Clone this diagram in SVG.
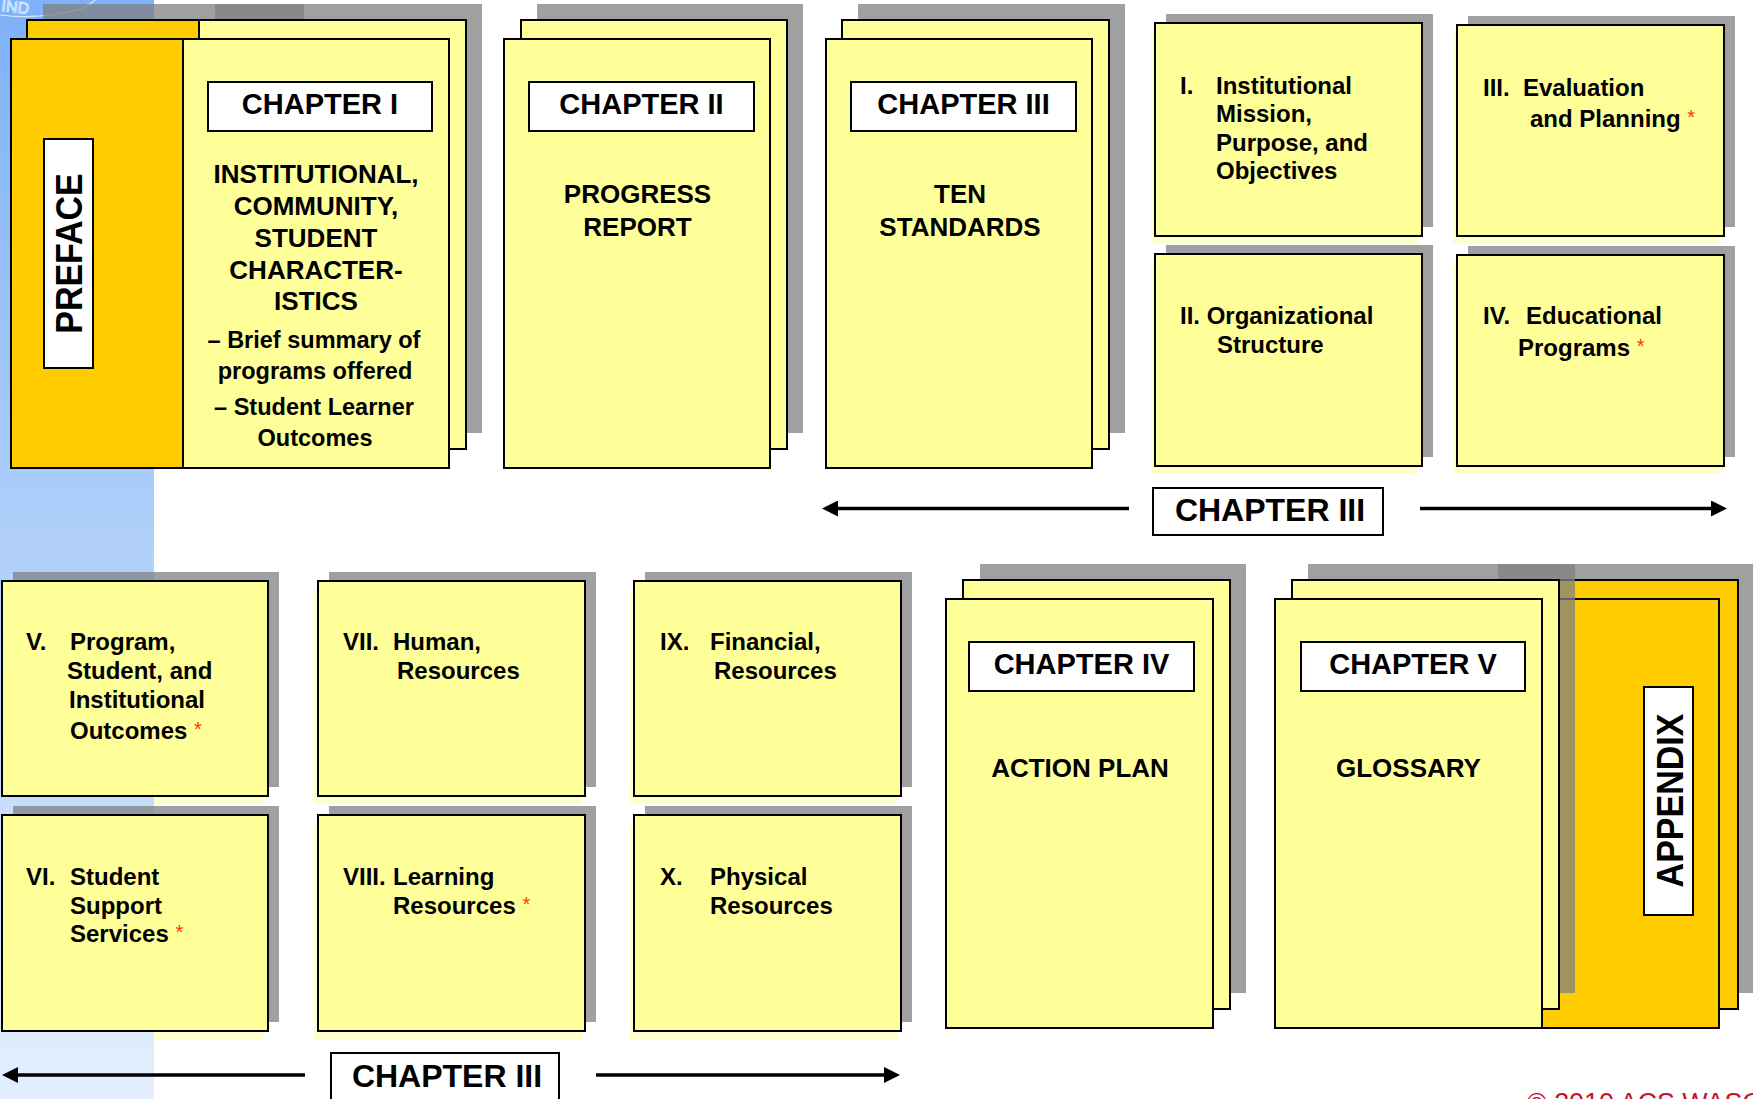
<svg xmlns="http://www.w3.org/2000/svg" width="1753" height="1099" viewBox="0 0 1753 1099">
<defs>
  <linearGradient id="bluebg" x1="0" y1="0" x2="0" y2="1">
    <stop offset="0" stop-color="#7eb1f9"/>
    <stop offset="0.7" stop-color="#c4dcfa"/>
    <stop offset="1" stop-color="#e3effd"/>
  </linearGradient>
  <marker id="ah" markerUnits="userSpaceOnUse" markerWidth="16" markerHeight="16" viewBox="0 0 16 16" refX="1" refY="8" orient="auto">
    <path d="M0,0 L16,8 L0,16 z" fill="#000"/>
  </marker>
  <style>
    .sh{fill:#808080;opacity:0.75}
    .gl{fill:#ffffcc}
    .yl{fill:#ffff99;stroke:#000;stroke-width:2}
    .or{fill:#ffcc00;stroke:#000;stroke-width:2}
    .lb{fill:#fff;stroke:#000;stroke-width:2}
    text{font-family:"Liberation Sans",Arial,sans-serif;font-weight:bold;fill:#000}
    .t29{font-size:29px;text-anchor:middle}
    .t32{font-size:32px;text-anchor:middle}
    .t26{font-size:26px;text-anchor:middle}
    .t23{font-size:23.5px;text-anchor:middle}
    .t24{font-size:24px}
    .ast{fill:#ff3300;font-weight:normal;font-size:20px}
    .vert{font-size:34px;text-anchor:middle}
    .arr{stroke:#000;stroke-width:3.5;fill:none}
  </style>
</defs>

<rect width="1753" height="1099" fill="#fff"/>

<!-- glows under small boxes -->
<g id="glows">
  <rect class="gl" x="1151" y="31" width="267" height="213"/>
  <rect class="gl" x="1453" y="33" width="267" height="211"/>
  <rect class="gl" x="1151" y="262" width="267" height="212"/>
  <rect class="gl" x="1453" y="263" width="267" height="211"/>
  <rect class="gl" x="-2" y="589" width="266" height="215"/>
  <rect class="gl" x="314" y="589" width="267" height="215"/>
  <rect class="gl" x="630" y="589" width="267" height="215"/>
  <rect class="gl" x="-2" y="823" width="266" height="216"/>
  <rect class="gl" x="314" y="823" width="267" height="216"/>
  <rect class="gl" x="630" y="823" width="267" height="216"/>
</g>

<!-- background blue strip -->
<rect x="0" y="0" width="154" height="1099" fill="url(#bluebg)"/>
<g id="logo-fragment" fill="none" stroke="#dce9fd" stroke-width="1.2">
  <text x="1" y="11" style="font-size:16px;font-weight:normal;fill:none;stroke:#dce9fd;stroke-width:1" transform="rotate(6 1 11)">IND</text>
  <path d="M0,15 Q40,20 80,9 Q90,5 95,0"/>
</g>

<!-- PREFACE stack -->
<g id="preface">
  <rect class="sh" x="43" y="4" width="261" height="429"/>
  <rect class="or" x="27" y="20" width="261" height="429"/>
  <rect class="or" x="11" y="39" width="261" height="429"/>
  <rect class="lb" x="44" y="139" width="49" height="229"/>
  <text class="vert" transform="translate(82 253.5) rotate(-90) scale(1 1.1)">PREFACE</text>
</g>

<!-- CHAPTER I stack -->
<g id="chapter1">
  <rect class="sh" x="215" y="4" width="267" height="429"/>
  <rect class="yl" x="199" y="20" width="267" height="429"/>
  <rect class="yl" x="183" y="39" width="266" height="429"/>
  <rect class="lb" x="208" y="82" width="224" height="49"/>
  <text class="t29" x="320" y="114">CHAPTER I</text>
  <text class="t26" x="316" y="183">INSTITUTIONAL,</text>
  <text class="t26" x="316" y="215">COMMUNITY,</text>
  <text class="t26" x="316" y="247">STUDENT</text>
  <text class="t26" x="316" y="278.5">CHARACTER-</text>
  <text class="t26" x="316" y="310">ISTICS</text>
  <text class="t23" x="314" y="348">– Brief summary of</text>
  <text class="t23" x="315" y="379">programs offered</text>
  <text class="t23" x="314" y="415">– Student Learner</text>
  <text class="t23" x="315" y="446">Outcomes</text>
</g>

<!-- CHAPTER II stack -->
<g id="chapter2">
  <rect class="sh" x="537" y="4" width="266" height="429"/>
  <rect class="yl" x="521" y="20" width="266" height="429"/>
  <rect class="yl" x="504" y="39" width="266" height="429"/>
  <rect class="lb" x="529" y="82" width="225" height="49"/>
  <text class="t29" x="641.5" y="114">CHAPTER II</text>
  <text class="t26" x="637.5" y="203">PROGRESS</text>
  <text class="t26" x="637.5" y="236">REPORT</text>
</g>

<!-- CHAPTER III stack -->
<g id="chapter3">
  <rect class="sh" x="858" y="4" width="267" height="429"/>
  <rect class="yl" x="842" y="20" width="267" height="429"/>
  <rect class="yl" x="826" y="39" width="266" height="429"/>
  <rect class="lb" x="851" y="82" width="225" height="49"/>
  <text class="t29" x="963.5" y="114">CHAPTER III</text>
  <text class="t26" x="960" y="203">TEN</text>
  <text class="t26" x="960" y="236">STANDARDS</text>
</g>

<!-- Standard I -->
<g id="std1">
  <rect class="sh" x="1166" y="14" width="267" height="213"/>
  <rect class="yl" x="1155" y="23" width="267" height="213"/>
  <text class="t24" x="1180" y="93.5">I.</text>
  <text class="t24" x="1216" y="93.5">Institutional</text>
  <text class="t24" x="1216" y="122">Mission,</text>
  <text class="t24" x="1216" y="150.5">Purpose, and</text>
  <text class="t24" x="1216" y="179">Objectives</text>
</g>

<!-- Standard III -->
<g id="std3">
  <rect class="sh" x="1468" y="16" width="267" height="211"/>
  <rect class="yl" x="1457" y="25" width="267" height="211"/>
  <text class="t24" x="1483" y="95.5">III.</text>
  <text class="t24" x="1523" y="95.5">Evaluation</text>
  <text class="t24" x="1530" y="126.5">and Planning <tspan class="ast" dy="-3">*</tspan></text>
</g>

<!-- Standard II -->
<g id="std2">
  <rect class="sh" x="1166" y="245" width="267" height="212"/>
  <rect class="yl" x="1155" y="254" width="267" height="212"/>
  <text class="t24" x="1180" y="324">II. Organizational</text>
  <text class="t24" x="1217" y="353">Structure</text>
</g>

<!-- Standard IV -->
<g id="std4">
  <rect class="sh" x="1468" y="246" width="267" height="211"/>
  <rect class="yl" x="1457" y="255" width="267" height="211"/>
  <text class="t24" x="1483" y="324">IV.</text>
  <text class="t24" x="1526" y="324">Educational</text>
  <text class="t24" x="1518" y="356">Programs <tspan class="ast" dy="-3">*</tspan></text>
</g>

<!-- Top Chapter III label -->
<g id="label-ch3-top">
  <rect class="lb" x="1153" y="488" width="230" height="47"/>
  <text class="t32" x="1270" y="521">CHAPTER III</text>
</g>

<!-- Standard V -->
<g id="std5">
  <rect class="sh" x="13" y="572" width="266" height="215"/>
  <rect class="yl" x="2" y="581" width="266" height="215"/>
  <text class="t24" x="26" y="650">V.</text>
  <text class="t24" x="70" y="650">Program,</text>
  <text class="t24" x="67" y="679">Student, and</text>
  <text class="t24" x="69" y="708">Institutional</text>
  <text class="t24" x="70" y="739">Outcomes <tspan class="ast" dy="-3">*</tspan></text>
</g>

<!-- Standard VII -->
<g id="std7">
  <rect class="sh" x="329" y="572" width="267" height="215"/>
  <rect class="yl" x="318" y="581" width="267" height="215"/>
  <text class="t24" x="343" y="650">VII.</text>
  <text class="t24" x="393" y="650">Human,</text>
  <text class="t24" x="397" y="679">Resources</text>
</g>

<!-- Standard IX -->
<g id="std9">
  <rect class="sh" x="645" y="572" width="267" height="215"/>
  <rect class="yl" x="634" y="581" width="267" height="215"/>
  <text class="t24" x="660" y="650">IX.</text>
  <text class="t24" x="710" y="650">Financial,</text>
  <text class="t24" x="714" y="679">Resources</text>
</g>

<!-- Standard VI -->
<g id="std6">
  <rect class="sh" x="13" y="806" width="266" height="216"/>
  <rect class="yl" x="2" y="815" width="266" height="216"/>
  <text class="t24" x="26" y="885">VI.</text>
  <text class="t24" x="70" y="885">Student</text>
  <text class="t24" x="70" y="914">Support</text>
  <text class="t24" x="70" y="942">Services <tspan class="ast" dy="-3">*</tspan></text>
</g>

<!-- Standard VIII -->
<g id="std8">
  <rect class="sh" x="329" y="806" width="267" height="216"/>
  <rect class="yl" x="318" y="815" width="267" height="216"/>
  <text class="t24" x="343" y="885">VIII.</text>
  <text class="t24" x="393" y="885">Learning</text>
  <text class="t24" x="393" y="914">Resources <tspan class="ast" dy="-3">*</tspan></text>
</g>

<!-- Standard X -->
<g id="std10">
  <rect class="sh" x="645" y="806" width="267" height="216"/>
  <rect class="yl" x="634" y="815" width="267" height="216"/>
  <text class="t24" x="660" y="885">X.</text>
  <text class="t24" x="710" y="885">Physical</text>
  <text class="t24" x="710" y="914">Resources</text>
</g>

<!-- CHAPTER IV stack -->
<g id="chapter4">
  <rect class="sh" x="980" y="564" width="266" height="429"/>
  <rect class="yl" x="963" y="580" width="267" height="429"/>
  <rect class="yl" x="946" y="599" width="267" height="429"/>
  <rect class="lb" x="969" y="642" width="225" height="49"/>
  <text class="t29" x="1081.5" y="674">CHAPTER IV</text>
  <text class="t26" x="1080" y="777">ACTION PLAN</text>
</g>

<!-- APPENDIX stack -->
<g id="appendix">
  <rect class="sh" x="1498" y="564" width="256" height="429"/>
  <rect class="or" x="1482" y="580" width="256" height="429"/>
  <rect class="or" x="1465" y="599" width="254" height="429"/>
  <rect class="lb" x="1644" y="687" width="49" height="228"/>
  <text class="vert" transform="translate(1682.5 800.5) rotate(-90) scale(1 1.1)">APPENDIX</text>
</g>

<!-- CHAPTER V stack -->
<g id="chapter5">
  <rect class="sh" x="1308" y="564" width="267" height="429"/>
  <rect class="yl" x="1292" y="580" width="267" height="429"/>
  <rect class="yl" x="1275" y="599" width="267" height="429"/>
  <rect class="lb" x="1301" y="642" width="224" height="49"/>
  <text class="t29" x="1413" y="674">CHAPTER V</text>
  <text class="t26" x="1408.5" y="777">GLOSSARY</text>
</g>

<!-- Bottom Chapter III label -->
<g id="label-ch3-bottom">
  <rect class="lb" x="331" y="1053" width="228" height="60"/>
  <text class="t32" x="447" y="1087">CHAPTER III</text>
</g>

<!-- connectors -->
<g id="connectors">
  <line class="arr" x1="1129" y1="508.5" x2="837" y2="508.5" marker-end="url(#ah)"/>
  <line class="arr" x1="1420" y1="508.5" x2="1712" y2="508.5" marker-end="url(#ah)"/>
  <line class="arr" x1="305" y1="1075" x2="17" y2="1075" marker-end="url(#ah)"/>
  <line class="arr" x1="596" y1="1075" x2="885" y2="1075" marker-end="url(#ah)"/>
</g>

<text x="1527" y="1112" style="font-size:26.8px;font-weight:normal;fill:#c41230">© 2010 ACS WASC</text>
</svg>
